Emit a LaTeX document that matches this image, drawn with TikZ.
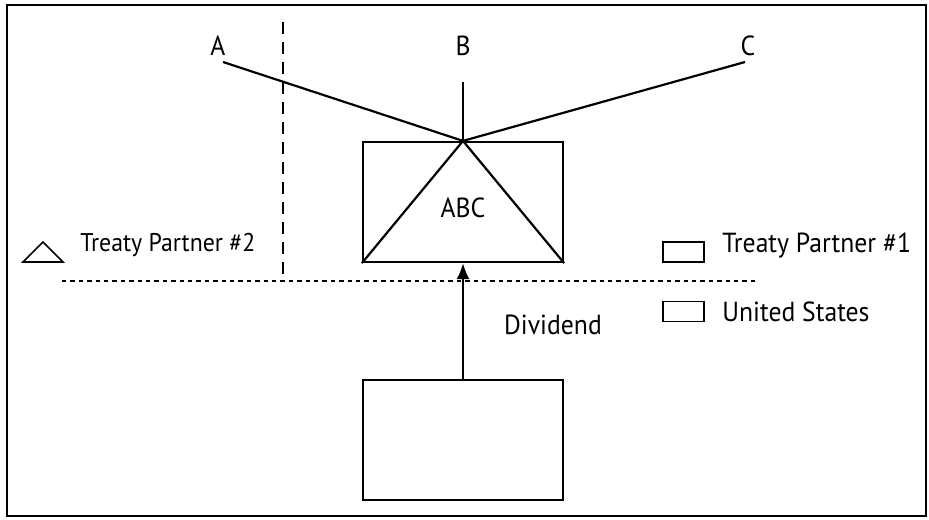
\documentclass[tikz,border=0pt]{standalone}
\usepackage{fontspec}
\setmainfont{PT Sans}[FakeStretch=0.93]
\usetikzlibrary{arrows.meta}
\tikzset{
  >=Latex,
  entity/.style={draw, line width=1.1pt, minimum width=100pt, minimum height=60pt, inner sep=0},
  keybox/.style={draw, line width=0.8pt, minimum width=20.5pt, minimum height=10pt, inner sep=0},
  lbl/.style={font=\fontsize{13.8}{16}\selectfont, inner sep=1pt},
  small lbl/.style={font=\fontsize{12.8}{15}\selectfont, inner sep=1pt},
  owner/.style={line width=1.1pt},
  border/.style={dash pattern=on 6pt off 4pt, line width=0.9pt},
  country/.style={dash pattern=on 2.2pt off 2pt, line width=0.9pt},
  flow/.style={-{Latex[length=8pt, width=6.5pt]}, line width=1.1pt},
}

\begin{document}
\begin{tikzpicture}[x=0.5pt, y=-0.5pt]

  \useasboundingbox (0,0) rectangle (929,519);
  \draw[line width=0.9pt] (7,5) rectangle (926,516);

  % ---- entities
  \node[entity] (abc) at (463,202) {};
  \node[lbl] (abcname) at (463,208) {ABC};
  \node[entity] (us) at (463,440) {};

  % ---- shareholders A, B, C
  \node[lbl] (sa) at (218,46) {A};
  \node[lbl] (sb) at (463,46) {B};
  \node[lbl] (sc) at (748,46) {C};
  \coordinate (ea) at (223,62);
  \coordinate (eb) at (463,82);
  \coordinate (ec) at (745,62);
  \foreach \e in {ea,eb,ec}
    \draw[owner] (\e) -- (abc.north);
  \draw[owner] (abc.south west) -- (abc.north) -- (abc.south east);

  % ---- dividend
  \draw[flow] (us.north) -- (abc.south);
  \node[lbl] (div) at (553,325) {Dividend};

  % ---- borders
  \coordinate (vtop) at (283,22);
  \coordinate (vbot) at (283,281);
  \coordinate (hl) at (62,281);
  \coordinate (hr) at (759,281);
  \draw[border] (vtop) -- (vbot);
  \draw[country] (hl) -- (hr);

  % ---- key
  \draw[line width=0.8pt] (23,262) -- (43,242) -- (63,262) -- cycle;
  \node[small lbl, anchor=west] (tp2) at (78,245) {Treaty Partner \#2};
  \node[keybox] (k1) at (683.5,252) {};
  \node[lbl, anchor=west] (tp1) at (720,246) {Treaty Partner \#1};
  \node[keybox] (k2) at (683.5,311.5) {};
  \node[lbl, anchor=west] (tus) at (720,312) {United States};

\end{tikzpicture}
\end{document}
